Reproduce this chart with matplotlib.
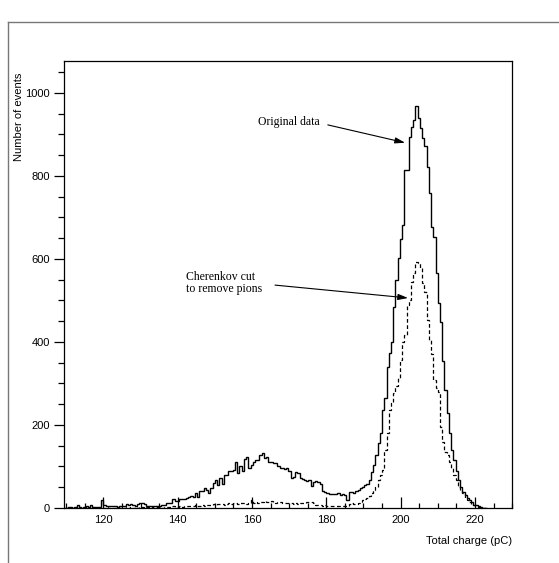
import numpy as np
import matplotlib
matplotlib.use("Agg")
import matplotlib.pyplot as plt
from matplotlib.ticker import MultipleLocator
from matplotlib.lines import Line2D

# histogram binning (pC)
BIN_START = 109.8
BIN_WIDTH = 0.6

# original data, one row = 10 bins (6 pC)
original_counts = [
    0, 2, 3, 1, 2, 7, 2, 1, 3, 5,                          # 109.8
    2, 7, 3, 2, 2, 3, 19, 7, 6, 5,                         # 115.8
    5, 4, 6, 3, 5, 4, 6, 9, 8, 9,                          # 121.8
    8, 6, 9, 11, 13, 10, 6, 4, 5, 4,                       # 127.8
    4, 5, 6, 7, 8, 11, 13, 11, 21, 18,                     # 133.8
    17, 21, 21, 22, 24, 26, 28, 27, 36, 26,                # 139.8
    40, 40, 48, 44, 35, 48, 60, 68, 56, 72,                # 145.8
    58, 80, 80, 88, 90, 92, 112, 84, 100, 88,              # 151.8
    118, 122, 96, 104, 112, 116, 116, 128, 132, 120,       # 157.8
    124, 112, 110, 108, 108, 100, 96, 97, 95, 96,          # 163.8
    90, 72, 75, 86, 84, 72, 70, 67, 66, 68,                # 169.8
    52, 63, 64, 62, 59, 40, 38, 36, 34, 33,                # 175.8
    33, 34, 36, 31, 34, 32, 19, 39, 38, 36,                # 181.8
    40, 43, 48, 51, 55, 58, 67, 87, 104, 128,              # 187.8
    156, 180, 236, 264, 340, 373, 401, 485, 549, 602,      # 193.8
    647, 682, 814, 814, 895, 919, 935, 969, 940, 916,      # 199.8
    891, 871, 822, 758, 678, 654, 566, 493, 449, 353,      # 205.8
    284, 228, 180, 140, 116, 88, 67, 51, 39, 31,           # 211.8
    24, 19, 15, 8, 7, 4, 3, 1, 0,                          # 217.8
]

# after Cherenkov cut (pions removed)
cherenkov_counts = [
    0, 0, 1, 0, 1, 0, 0, 1, 0, 1,
    0, 1, 0, 0, 1, 0, 1, 0, 2, 0,
    1, 0, 1, 2, 0, 1, 1, 2, 1, 2,
    1, 2, 1, 2, 3, 1, 2, 2, 1, 2,
    2, 3, 2, 1, 3, 2, 3, 2, 4, 3,
    3, 4, 3, 5, 4, 6, 5, 6, 7, 5,
    6, 7, 6, 8, 7, 8, 9, 8, 10, 9,
    9, 8, 10, 11, 9, 12, 11, 10, 12, 11,
    12, 10, 13, 19, 12, 14, 13, 15, 14, 16,
    15, 14, 16, 15, 13, 15, 14, 12, 13, 11,
    11, 12, 10, 11, 9, 11, 12, 13, 15, 14,
    15, 11, 8, 7, 7, 6, 7, 5, 6, 5,
    5, 4, 6, 5, 5, 4, 6, 9, 11, 10,
    10, 12, 15, 19, 22, 24, 28, 35, 43, 51,
    67, 80, 92, 140, 180, 236, 253, 277, 295, 313,
    357, 401, 417, 488, 501, 545, 566, 593, 590, 578,
    542, 520, 453, 405, 370, 308, 290, 280, 196, 160,
    136, 128, 110, 96, 80, 67, 51, 42, 35, 24,
    20, 15, 10, 7, 5, 3, 2, 1, 0,
]

x_ticks = [120, 140, 160, 180, 200, 220]
y_ticks = [0, 200, 400, 600, 800, 1000]

edges = BIN_START + BIN_WIDTH * np.arange(len(original_counts) + 1)

fig = plt.figure(figsize=(5.59, 5.63), dpi=100)
ax = fig.add_axes([0.1145, 0.0977, 0.8016, 0.794])

ax.stairs(original_counts, edges, color="black", linewidth=1.0, baseline=None)
ax.stairs(cherenkov_counts, edges, color="black", linewidth=0.9,
          linestyle=(0, (3, 2)), baseline=None)

ax.set_xlim(109.4, 230)
ax.set_ylim(0, 1077)
ax.set_xticks(x_ticks)
ax.set_yticks(y_ticks)
ax.xaxis.set_minor_locator(MultipleLocator(5))
ax.yaxis.set_minor_locator(MultipleLocator(50))

tick_font = "Liberation Sans"
ax.tick_params(axis="x", which="major", direction="in", length=8, width=0.9,
               pad=5, labelsize=8, top=False)
ax.tick_params(axis="x", which="minor", direction="in", length=3.5, width=0.9, top=False)
ax.tick_params(axis="y", which="major", direction="out", length=7, width=0.9,
               pad=3, labelsize=8, right=False)
ax.tick_params(axis="y", which="minor", direction="out", length=4, width=0.9, right=False)
for lab in ax.get_xticklabels() + ax.get_yticklabels():
    lab.set_fontfamily(tick_font)

for sp in ax.spines.values():
    sp.set_linewidth(0.9)

ax.set_ylabel("Number of events", fontsize=8, family=tick_font, loc="top")
ax.yaxis.set_label_coords(-0.09, 0.975)
ax.set_xlabel("Total charge (pC)", fontsize=8, family=tick_font, loc="right", labelpad=8)

# annotations
serif = "Liberation Serif"
arrow = dict(arrowstyle="-|>,head_length=0.6,head_width=0.18",
             color="black", lw=0.8, shrinkA=0, shrinkB=0)
ax.text(161.6, 930, "Original data", fontsize=8.5, family=serif, ha="left", va="center")
ax.annotate("", xy=(201.2, 880), xytext=(180.4, 923), arrowprops=arrow)
ax.text(142.2, 541, "Cherenkov cut\nto remove pions", fontsize=8.5, family=serif,
        ha="left", va="center", linespacing=1.0)
ax.annotate("", xy=(202.0, 506), xytext=(166.2, 537), arrowprops=arrow)

# outer page frame (left and top edges)
fig.add_artist(Line2D([8 / 559, 8 / 559], [0, 1 - 22 / 563], transform=fig.transFigure,
                      color="#777777", lw=1.0))
fig.add_artist(Line2D([8 / 559, 1], [1 - 22 / 563, 1 - 22 / 563], transform=fig.transFigure,
                      color="#777777", lw=1.0))

fig.savefig("out.png", dpi=100)
